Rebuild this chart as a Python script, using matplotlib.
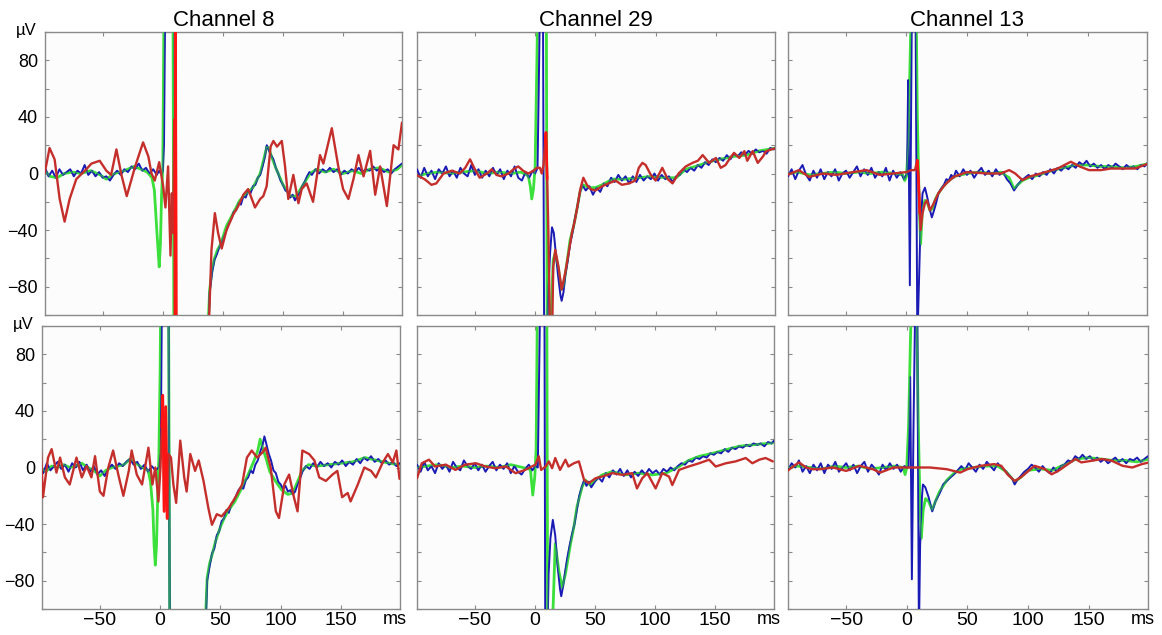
import numpy as np
import matplotlib
matplotlib.use("Agg")
import matplotlib.pyplot as plt
from matplotlib.ticker import FixedLocator

plt.rcParams['font.family'] = ['Liberation Sans', 'DejaVu Sans']

# ---------- traces (time in ms, amplitude in uV) ----------
channels = ["Channel 8", "Channel 29", "Channel 13"]

# Channel 8, upper row
c8_top_blue_t = [-98, -95, -92, -89, -86, -83, -80, -77, -74, -71, -68, -65, -62, -59, -56, -53, -50, -47, -44,
                 -41, -38, -35, -32, -29, -26, -23, -20, -17, -14, -11, -8, -5, -3, -1, 0, 1, 2, 9.5, 10.2,
                 37.5, 39, 41, 43, 45, 47, 49, 51, 53, 55, 57, 59, 61, 63, 65, 67, 69, 71, 73, 75, 77, 79, 81,
                 83, 85, 86.5, 88, 90, 92, 94, 96, 98, 100, 102, 104, 106, 108, 110, 112, 114, 116, 118, 120,
                 122, 124, 127, 130, 133, 136, 139, 142, 145, 148, 151, 154, 157, 160, 163, 166, 169, 172, 175,
                 178, 181, 184, 187, 190, 193, 196, 199]
c8_top_blue_v = [4, -2, 2, -3, 3, -1, 1, 3, -2, 2, 0, 6, -1, 2, -2, 1, -3, -2, -5, -1, 2, -1, 3, 1, 5, 3, 7, 2,
                 4, 0, 3, -1, 2, -1, 2, 20, 120, 120, -120,
                 -120, -84, -70, -61, -57, -52, -49, -44, -40, -35, -32, -27, -26, -21, -22, -16, -17, -12, -14,
                 -9, -8, -3, -1, 5, 12, 20, 17, 13, 10, 4, 0, -5, -8, -12, -13, -17, -15, -19, -16, -13, -9, -6,
                 -2, 1, -1, 3, 0, 3, 1, 4, 1, 3, -1, 2, 0, 3, 1, 4, 1, 3, 2, 5, 2, 4, 1, 3, 0, 3, 5, 7]
c8_top_green_t = [-98, -94, -88, -82, -75, -68, -60, -52, -47, -40, -32, -24, -18, -13, -9, -7, -5, -3, -2, -1,
                  0, 1, 8.5, 9.2, 37, 39, 41, 43, 45.5, 47.5, 50, 53, 58.6, 64, 70, 75, 81, 84, 86.5, 88, 90.5,
                  94, 100, 106, 111, 116, 122.5, 128, 135, 142, 150, 158, 165, 172, 180, 188, 195, 199]
c8_top_green_v = [2, -2, -3, 0, 1, 0, 2, -1, -4, 0, 2, 5, 3, 1, -3, -12, -40, -66, -50, -15, 5, 120, 120, -120,
                  -120, -82, -68, -60, -54, -51, -45, -37, -28, -19, -14, -10, 0, 10, 19, 18, 12, 4, -8, -16,
                  -16, -9, 0, 3, 1, 3, 0, 2, 0, 3, 4, 1, 3, 6]
c8_top_red_t = [-98.3, -94.2, -90, -85.8, -81.7, -77.5, -72, -63.6, -59.4, -52.5, -47, -43, -38.6, -34.4, -30,
                -23, -16.4, -12, -9.4, -6.7, -3, 0.3, 2.2, 4.4, 6.4, 7.5, 8.6, 9.5, 10.2, 10.6, 11.2, 37.8, 40.5,
                43.3, 46, 49, 53, 58.6, 62.8, 67, 71, 76.7, 81, 83.6, 86.4, 89.7, 92, 95, 99, 101.7, 104.4,
                108.6, 112.8, 115.6, 119.7, 125, 130.8, 133.6, 140.6, 146, 150, 154.4, 158.6, 162.8, 167, 172.5,
                176.7, 180.8, 186.4, 192, 196, 199]
c8_top_red_v = [0, 18, 10, -18, -34, -18, -4, 3, 7, 9, 2, -1, 17, -1, -16, 5, 22, 12, 0, -5, 8, -9, -24, 5, -58,
                -14, -42, 38, -120, 120, -120, -120, -54, -28, -42, -53, -40, -29, -23, -15, -11, -24, -18, -16,
                -9, 19, 23, 19, 23, 5, -18, -1, -21, -11, -7, -20, 13, 7, 32, 5, -11, -18, -4, 13, -2, 16, -15,
                5, -23, 20, 17, 36]

# Channel 29, upper row
c29_top_blue_t = [-98, -95, -92, -89, -86, -83, -80, -77, -74, -71, -68, -65, -62, -59, -56, -53, -50, -47, -44,
                  -41, -38, -35, -32, -29, -26, -23, -20, -17, -14, -11, -8, -5, -2, 0, 2, 3, 4, 6.5, 7.5,
                  9.7, 11, 12.5, 14, 15.5, 17, 19, 21, 22, 23.5, 25, 27, 29, 31, 33, 35, 37, 39, 42, 45, 48, 51,
                  54, 57, 60, 63, 66, 69, 72, 75, 78, 81, 84, 87, 90, 93, 96, 99, 102, 105, 108, 111, 114, 117,
                  120, 123, 126, 129, 132, 135, 138, 141, 144, 147, 150, 153, 156, 159, 162, 165, 168, 171, 174,
                  177, 180, 183, 186, 189, 192, 195, 198, 200]
c29_top_blue_v = [3, -3, 4, -2, 2, -4, 3, 0, 5, -2, 2, -3, 4, 0, -2, 6, -1, 3, -3, 2, -2, 4, -1, 3, -4, 2, -2, 5,
                  -3, -5, 1, -3, 2, 0, 4, 60, 120, 120, -120,
                  -120, -80, -55, -38, -42, -55, -72, -86, -90, -84, -72, -62, -50, -42, -32, -24, -14, -8, -12,
                  -9, -15, -10, -13, -7, -9, -3, -6, -1, -5, -2, -7, -2, -6, -1, -5, -2, -4, 0, -5, -1, -4, -2,
                  -6, -2, -1, 3, 1, 4, 2, 6, 4, 8, 6, 10, 8, 11, 9, 13, 10, 14, 12, 15, 13, 16, 14, 17, 15, 16,
                  14, 18, 17, 19]
c29_top_green_t = [-98, -90, -80, -70, -60, -50, -40, -30, -20, -12, -7, -5.6, -4, -2.8, -1.4, 0, 1.4, 2.2, 9.3,
                   10, 12.5, 15, 16.7, 19.4, 21.7, 23.6, 26.4, 29, 32, 34.7, 37.5, 40, 44.4, 50, 55.6, 64, 75, 86,
                   97, 108, 117, 125, 133, 141.7, 152.8, 164, 175, 186, 200]
c29_top_green_v = [-2, 0, 1, 0, 1, 2, 0, 1, 0, 1, -1, -2, -9, -18, -11, 5, 76, 120, 120, -120, -120, -61, -56,
                   -68, -82, -80, -63, -47, -37, -25, -12, -8, -10, -10, -8, -4, -4, -3, -2, -3, -3, 3, 5, 7.5,
                   10, 12, 13, 16, 18]
c29_top_red_t = [-98.6, -91.7, -86, -82, -76, -69, -62.5, -58, -54, -50, -46, -40, -36, -32, -28, -22, -18, -14,
                 -10, -5.6, -1.4, 1.4, 4, 5.5, 7, 8.3, 9, 10, 11, 12.5, 14, 15, 16.7, 19.4, 22, 25, 27.8, 30.5,
                 33, 34.7, 37.5, 40, 43, 46, 50, 55.6, 61, 66.7, 72, 78, 83, 86, 89, 91.7, 96, 100, 105.5, 110,
                 114, 119, 125, 130.5, 135, 139, 144.4, 150, 154, 158, 161, 165, 169.4, 173.6, 176, 180.5, 184.7,
                 189, 191.7, 196, 200]
c29_top_red_v = [-1, -4, -8, -7, 0, 2, 0, 4, 10, 3, -3, 0, 3, -1, -2, 0, 3, 5, 2, 0, 2, 4, 4, 0, 6, 22, 29, -4,
                 -42, -120, -120, -66, -54, -66, -82, -70, -56, -42, -33, -25, -11, -3, -8, -11, -12, -9, -7, -5,
                 -8, -7, -5, 4, 7.5, 6, -1, -5, 4, -4, -7, 0, 5, 7.5, 9, 13, 7.5, 11, 4, 6, 10, 14.6, 11, 15.8,
                 9, 15.8, 7.5, 12, 15.8, 17, 18]

# Channel 13, upper row
c13_top_blue_t = [-98, -95, -92, -89, -86, -83, -80, -77, -74, -71, -68, -65, -62, -59, -56, -53, -50, -47, -44,
                  -41, -38, -35, -32, -29, -26, -23, -20, -17, -14, -11, -8, -5, -2, 0.5, 1.4, 2.8, 4.5, 7.5, 9,
                  11.5, 13.3, 15.3, 17, 19.5, 21, 22.5, 24.5, 26.5, 28.5, 31, 33, 35, 37, 39, 41, 44, 47, 50, 53,
                  56, 59, 62, 65, 68, 71, 74, 77, 80, 83, 86, 89, 92, 95, 98, 101, 104, 107, 110, 113, 116, 119,
                  122, 125, 128, 131, 134, 137, 140, 143, 146, 149, 152, 155, 158, 161, 164, 167, 170, 173, 176,
                  179, 182, 185, 188, 191, 194, 197, 200]
c13_top_blue_v = [-2, 3, -4, 2, 6, -1, -5, 2, -3, 3, -4, 1, -2, 3, -5, 0, 2, -3, 1, 5, -2, 3, -1, 4, -3, 1, -2,
                  4, -5, 2, -3, 1, -4, 0, 66, -79, 120, 120, -120,
                  -40, -14, -10, -16, -26, -31, -27, -21, -14, -11, -8, -4, -5, -1, -3, 2, -2, 3, -1, 2, -3, 1,
                  4, -1, 2, -2, 3, -1, 1, -4, -7, -12, -8, -5, -3, -1, -4, 0, -2, 1, -1, 3, 0, 4, 2, 5, 3, 6, 4,
                  8, 6, 9, 5, 7, 4, 6, 3, 6, 4, 7, 5, 3, 6, 4, 5, 3, 6, 5, 8]
c13_top_green_t = [-98, -90, -80, -70, -60, -50, -40, -30, -20, -10, -3, -1.4, 0, 1.5, 3, 4, 8, 9, 10.5, 11.7,
                   13.3, 15.3, 17, 19.4, 21.5, 24, 26.5, 30.5, 35, 40, 50, 60, 70, 78, 85, 89, 92, 96, 101, 110,
                   120, 130, 140, 150, 160, 170, 180, 190, 200]
c13_top_green_v = [0, 1, -1, 0, 1, 0, 1, 0, 1, 0, -1, -5, -2, 20, 80, 120, 120, 40, -20, -50, -24, -19, -20, -26,
                   -25, -18, -14, -9, -5, -2, 0, 1, 0, 1, -3, -11, -8, -5, -3, -1, 2, 4, 6, 6, 5, 5, 4, 5, 7]
c13_top_red_t = [-98.6, -89, -80.5, -69, -58, -44, -33, -22, -11, 0, 4, 7, 9, 10, 11, 11.7, 13.3, 15.3, 17, 19.4,
                 22, 26.4, 30.5, 33, 39, 50, 67, 78, 85, 90, 96, 101, 111, 125, 136, 144, 151, 161, 169, 180.5,
                 189, 200]
c13_top_red_v = [-1, 2.4, -2.4, 0, -1, 1, 2.4, -1, 0, 1, 2.4, 2.4, 9.4, -5, -28, -40, -28, -21, -19, -26, -22,
                 -14, -9.4, -7, -2.4, 1, 0, 0, 2.4, 0, -4.7, -2.4, 0, 3.5, 8.3, 4.7, 2.4, 2.4, 3.5, 3.5, 3.5, 7]

# Channel 8, lower row
c8_bot_blue_t = [-100, -97, -94, -91, -88, -85, -82, -79, -76, -73, -70, -67, -64, -61, -58, -55, -52, -49, -46,
                 -43, -40, -37, -34, -31, -28, -25, -22, -19, -16, -13, -10, -7, -4, -1, 0.5, 1.5, 7, 8,
                 37.5, 39, 41, 43, 45, 47, 49, 51, 53, 55, 57, 59, 61, 63, 65, 67, 69, 71, 73, 75, 77, 79, 81,
                 83, 85, 86.5, 88, 90, 92, 94, 96, 98, 100, 102, 104, 106, 108, 110, 112, 114, 116, 118, 121, 124,
                 127, 130, 133, 136, 139, 142, 145, 148, 151, 154, 157, 160, 163, 166, 169, 172, 175, 178, 181,
                 184, 187, 190, 193, 196, 198.6]
c8_bot_blue_v = [2, -4, 3, -2, 1, 4, -1, 2, -3, 3, 0, 4, -2, 2, -3, 1, -5, -2, -6, -1, 2, -1, 3, 1, 4, 6, 2, 4,
                 -1, 2, -3, 1, -2, 0, 10, 120, 120, -120,
                 -120, -80, -70, -61, -57, -48, -45, -38, -36, -30, -32, -26, -24, -20, -16, -14, -15, -9, -7, -2,
                 -4, 2, 5, 11, 16, 22, 17, 10, 5, -2, -4, -10, -12, -15, -13, -17, -16, -19, -17, -12, -8, -3, 1,
                 -1, 3, 0, 4, 1, 3, 0, 4, 2, 5, 1, 4, 2, 6, 3, 7, 5, 8, 4, 6, 3, 5, 2, 4, 1, 3]
c8_bot_green_t = [-100, -95, -90, -85, -80, -75, -70, -65, -60, -55, -50, -45, -40, -35, -30, -25, -20, -15, -10,
                  -8, -6, -5, -4, -3, -2, -1, 0, 0.5, 7, 8, 37, 39, 41, 43, 46, 50, 53, 57, 62, 68, 73, 78, 81,
                  83, 85, 88, 91, 96, 101, 106, 110, 114, 118, 123, 130, 140, 150, 160, 170, 180, 190, 198]
c8_bot_green_v = [0, -3, 1, 0, 2, 0, 1, 3, 0, -2, -6, -2, 0, 1, 2, 6, 3, 0, -2, -10, -30, -55, -69, -55, -20, 10,
                  68, 120, 120, -120, -120, -78, -68, -62, -52, -42, -36, -30, -24, -14, -5, 5, 12, 20, 14, 6,
                  -3, -10, -16, -19, -18, -10, -2, 2, 1, 2, 3, 4, 7, 5, 3, 2]
c8_bot_red_t = [-100, -97.2, -93, -90, -86, -83, -79, -75, -69.4, -65, -61, -57, -54, -50, -47, -43, -39, -34.7,
                -30.5, -26, -23.6, -19.4, -15, -9.7, -6.4, -4, -1.4, 0.3, 1.4, 2.2, 3.3, 4.7, 5.8, 7, 9, 11,
                13.3, 16.7, 20, 22, 25, 29, 32, 36, 40, 43, 47, 51, 57, 62.5, 68, 72, 76, 80.5, 85, 87.5, 91.7,
                96, 98.6, 103, 107, 111, 114, 118, 123.6, 128, 132, 137.5, 143, 147, 151, 155.6, 158, 164, 169.4,
                175, 179, 184.7, 189, 193, 196, 198.6]
c8_bot_red_v = [31, -21, 7, 13, -3.6, 7, -7, -12, 7, -7, 1, -7, 8, -17, -20, 0, 12, -5, -20, -2.4, 12, -5, -12,
                14, -12, 0, -24, 0, 28.6, 51, -31, 43, -36, 9.5, 7, -12, -25, 19, -7, -17, 9.5, -2.4, 5, -9.5,
                -28.6, -40.5, -33, -34.5, -28.6, -21, -12, 7, 12, 7, 10.7, 14, 0, -31, -35.7, -12, -5, -21, -31,
                12, 9.5, 5, -7, -9.5, -5, -2.4, -21, -18, -24, -12, 0, -2.4, -7, 3.6, 9.5, 3.6, 12, -8]

# Channel 29, lower row
c29_bot_blue_t = [-98, -95, -92, -89, -86, -83, -80, -77, -74, -71, -68, -65, -62, -59, -56, -53, -50, -47, -44,
                  -41, -38, -35, -32, -29, -26, -23, -20, -17, -14, -11, -8, -5, -2, 0.5, 2.5, 3.5, 4.5, 8, 8.7,
                  10.5, 11.5, 13, 15, 17, 19, 21, 22, 23.5, 25, 27, 29, 31, 33, 35, 37, 39, 41, 43, 45, 47, 50,
                  53, 56, 59, 62, 65, 68, 71, 74, 77, 80, 83, 86, 89, 92, 95, 98, 101, 104, 107, 110, 113, 116,
                  119, 122, 125, 128, 131, 134, 137, 140, 143, 146, 149, 152, 155, 158, 161, 164, 167, 170, 173,
                  176, 179, 182, 185, 188, 191, 194, 197, 199]
c29_bot_blue_v = [2, -3, 4, -2, 1, -4, 3, -1, 2, -3, 4, 0, -2, 5, 1, -1, 3, -2, 2, -3, 1, 4, -2, 2, -1, 3, -4, 1,
                  -3, -5, -1, 2, -2, 1, 0, 60, 120, 120, -120,
                  -120, -75, -50, -37, -48, -70, -86, -91, -84, -75, -64, -55, -47, -40, -30, -20, -14, -9, -13,
                  -10, -14, -10, -7, -10, -4, -7, -2, -5, -1, -6, -2, -7, -3, -6, -2, -5, -1, -4, -2, -5, -1, -3,
                  0, -2, 1, 3, 2, 5, 4, 7, 6, 8, 7, 10, 9, 11, 10, 13, 11, 14, 13, 15, 14, 16, 15, 17, 16, 17,
                  15, 18, 17, 19]
c29_bot_green_t = [-98, -90, -80, -70, -60, -50, -40, -30, -20, -10, -5, -3.6, -1.7, 0, 1.1, 2.2, 10, 10.7, 14.4,
                   17, 20, 22.8, 25.5, 29.7, 32.5, 35, 39.4, 42, 46, 50.5, 56, 64.4, 75.5, 86.7, 97.8, 109, 120,
                   128, 136.7, 147.8, 159, 170, 181, 198]
c29_bot_green_v = [0, 1, 2, 0, 1, 0, 1, 0, 2, 0, -1, -1.7, -19.5, -6.4, 12.6, 120, 120, -120, -120, -54, -73,
                   -85, -75, -54, -42, -28, -13.6, -8.8, -12.4, -8.8, -5.2, -2.9, -5.2, -4, -5.2, -4, 0.7, 5,
                   7.9, 10, 12.6, 15, 16, 17.4]
c29_bot_red_t = [-98, -94, -88, -83, -74, -66, -58, -49, -41, -33, -24, -16, -8, 0.5, 3.3, 5.3, 9, 11.7, 14.4, 17,
                 21, 25.5, 28, 32.5, 36.7, 41, 45, 50.5, 56, 64.4, 72.8, 81, 85, 89.4, 93.6, 100.5, 106, 111.7,
                 114.4, 120, 128, 136.7, 145, 150.5, 159, 167, 175.5, 181, 186.7, 192, 198]
c29_bot_red_v = [-7.6, 3, 5.5, 0.7, 2, -1.7, 2, 3, 0.7, -0.5, 0.7, -4, -1.7, 2, 8, -1.7, 0.7, 4.3, -0.5, 6.7,
                 -1.7, 5.5, 0.7, 3, 4.3, -8.8, -11, -7.6, -6.4, -4, -5.2, -4, -14.8, -7.6, -4, -14.8, -4, -6.4,
                 -12.4, -1.7, 0.7, 3, 5.5, 0.7, 3, 4.3, 6.7, 3, 5.5, 6.7, 4.3]

# Channel 13, lower row
c13_bot_blue_t = [-98, -95, -92, -89, -86, -83, -80, -77, -74, -71, -68, -65, -62, -59, -56, -53, -50, -47, -44,
                  -41, -38, -35, -32, -29, -26, -23, -20, -17, -14, -11, -8, -5, -2, 0, 1.4, 2.8, 4.2, 5.5, 7,
                  8.6, 10, 11, 12.5, 13.3, 15.3, 18, 21, 23.6, 26, 27.8, 30, 33, 36, 39, 42, 45, 48, 51, 54, 57,
                  60, 63, 66, 69, 72, 75, 78, 81, 84, 87, 89, 91, 94, 97, 100, 103, 106, 109, 112, 115, 118, 121,
                  124, 127, 130, 133, 136, 139, 142, 145, 148, 151, 154, 157, 160, 163, 166, 169, 172, 175, 178,
                  181, 184, 187, 190, 193, 196, 199]
c13_bot_blue_v = [-2, 3, 0, 5, -3, 1, -4, 2, -2, 3, -4, 2, -1, 4, -3, 0, 3, -2, 2, -4, 1, 4, -3, 2, -1, -5, 2, -2,
                  3, -1, 2, -3, 1, 0, 0, 64, -79, 26, 120, 120, -120, -55, -21, -12, -14, -21, -31, -24, -20,
                  -17, -12, -9.5, -7, -4.8, -2,
                  1, -2, 3, 0, -3, 2, -1, 4, 1, -2, 3, 0, -2, -5, -8, -12, -9, -6, -3, -1, 2, 0, -3, 1, -2, -4,
                  0, -3, 1, 2, 5, 4, 8, 6, 9, 6, 8, 5, 7, 4, 6, 3, 5, 7, 4, 6, 3, 6, 5, 7, 4, 6, 8]
c13_bot_green_t = [-98, -90, -80, -70, -60, -50, -40, -30, -20, -10, -3, -1.4, 0, 1.5, 3, 4, 8, 9.5, 11, 12,
                   13.5, 15.5, 18, 21, 23.6, 27, 33, 39, 45, 55, 65, 75, 82, 89, 94, 100, 110, 120, 130, 140,
                   150, 160, 170, 180, 190, 200]
c13_bot_green_v = [0, 1, 0, -1, 1, 0, 1, -1, 0, 1, 0, -5, 0, 30, 90, 120, 120, 30, -30, -50, -30, -22, -24, -30,
                   -24, -17, -9, -4, -1, 0, 1, 1, -3, -10, -7, -2, -1, -2, 2, 6, 7, 6, 5, 5, 4, 6]
c13_bot_red_t = [-98.6, -93, -89, -83, -78, -72, -61, -50, -39, -28, -22, -11, 5.5, 19, 33, 44, 50, 61, 72, 78,
                 83, 89, 94, 105.5, 114, 119.4, 125, 133, 139, 144, 153, 161, 169, 178, 186, 194, 200]
c13_bot_red_v = [-2.4, 1.2, 3.6, 0, -1.2, -1.2, 0, -2.4, 1.2, -1.2, -3.6, 0, 0, 0, -1.2, -3.6, -1.2, 1.2, 2.4,
                 1.2, -4.8, -9.5, -7, 1.2, -1.2, -4.8, -2.4, 2.4, 6, 3.6, 4.8, 6, 4.8, 1.2, 0, 2.4, 3.6]

# stimulus-artifact window where the red trace is drawn saturated
red_hot_window = [(9.6, 11.3), (7.5, 10.5), (8.5, 11.0), (0.8, 6.5), (2.0, 5.0), None]

# ---------- styling ----------
BLUE = '#1a1ab4'
GREEN = '#3be03b'
RED = '#c42f2c'
RED_HOT = '#ff1414'
FRAME = '#8a8a8a'

W, H = 1162, 635
fig = plt.figure(figsize=(W / 100, H / 100), dpi=100)
fig.patch.set_facecolor('white')

# axes boxes in pixels: (left, top, right, bottom)
boxes = [(45, 32, 402, 315), (417, 32, 775, 315), (788, 32, 1147, 315),
         (42, 326, 400, 609), (417, 326, 774, 609), (788, 326, 1148, 609)]

traces = [
    (c8_top_blue_t, c8_top_blue_v, c8_top_green_t, c8_top_green_v, c8_top_red_t, c8_top_red_v),
    (c29_top_blue_t, c29_top_blue_v, c29_top_green_t, c29_top_green_v, c29_top_red_t, c29_top_red_v),
    (c13_top_blue_t, c13_top_blue_v, c13_top_green_t, c13_top_green_v, c13_top_red_t, c13_top_red_v),
    (c8_bot_blue_t, c8_bot_blue_v, c8_bot_green_t, c8_bot_green_v, c8_bot_red_t, c8_bot_red_v),
    (c29_bot_blue_t, c29_bot_blue_v, c29_bot_green_t, c29_bot_green_v, c29_bot_red_t, c29_bot_red_v),
    (c13_bot_blue_t, c13_bot_blue_v, c13_bot_green_t, c13_bot_green_v, c13_bot_red_t, c13_bot_red_v),
]

for i, (box, tr) in enumerate(zip(boxes, traces)):
    l, t, r, b = box
    ax = fig.add_axes([l / W, 1 - b / H, (r - l) / W, (b - t) / H])
    ax.set_facecolor('#fcfcfc')
    bt, bv, gt, gv, rt, rv = tr

    line_kw = dict(solid_joinstyle='round', solid_capstyle='round')
    ax.plot(gt, gv, color=GREEN, lw=2.0, zorder=2, **line_kw)
    ax.plot(bt, bv, color=BLUE, lw=1.4, zorder=3, **line_kw)
    ax.plot(gt, gv, color=GREEN, lw=1.0, alpha=0.6, zorder=3.5, **line_kw)
    ax.plot(rt, rv, color=RED, lw=1.7, zorder=4, **line_kw)
    win = red_hot_window[i]
    if win is not None:
        rt_a, rv_a = np.array(rt), np.array(rv)
        m = (rt_a >= win[0]) & (rt_a <= win[1])
        ax.plot(rt_a[m], rv_a[m], color=RED_HOT, lw=1.9, zorder=5, **line_kw)

    ax.set_xlim(-98, 199)
    ax.set_ylim(-100, 100)
    ax.xaxis.set_major_locator(FixedLocator([-50, 0, 50, 100, 150]))
    ax.yaxis.set_major_locator(FixedLocator([-80, -40, 0, 40, 80]))
    ax.yaxis.set_minor_locator(FixedLocator([-100, -60, -20, 20, 60, 100]))
    ax.tick_params(which='both', direction='in', length=3, width=0.8, color=FRAME,
                   top=True, right=True, labelsize=12, pad=3)
    for s in ax.spines.values():
        s.set_color(FRAME)
        s.set_linewidth(1.0)

    row, col = divmod(i, 3)
    if col != 0:
        ax.set_yticklabels([])
    else:
        ax.tick_params(axis='y', labelsize=13, pad=5)
        fig.text((l - 8) / W, 1 - (t - 2) / H, 'µV', ha='right', va='center', fontsize=12)
    if row == 0:
        ax.set_xticklabels([])
        ax.set_title(channels[col], fontsize=16, pad=4)
    else:
        ax.tick_params(axis='x', labelsize=14, pad=2)
        fig.text((r - 5) / W, 1 - 620 / H, 'ms', ha='center', va='center', fontsize=13)

fig.savefig('out.png', dpi=100, facecolor='white')
